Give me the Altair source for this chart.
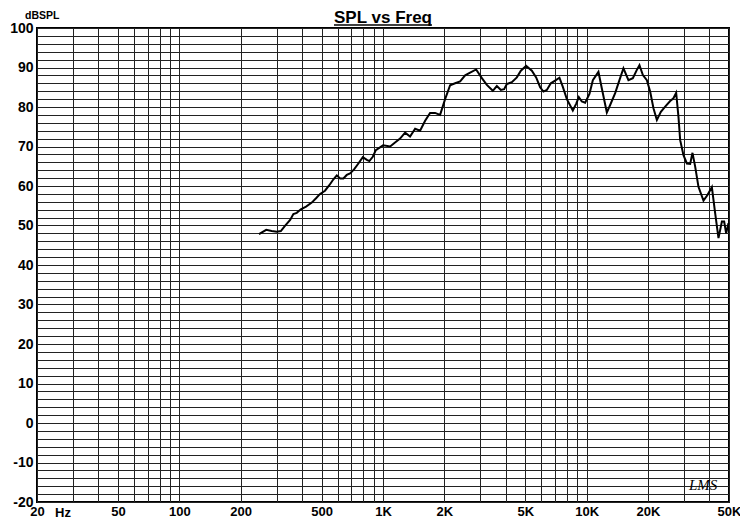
import altair as alt
import pandas as pd

# Frequency response (Hz, dB SPL)
freq = [246, 267, 284, 301, 315, 330, 350, 363, 377, 395, 419, 447, 469, 491,
        519, 545, 571, 593, 616, 639, 664, 689, 721, 757, 796, 833, 857, 891,
        922, 1001, 1084, 1146, 1213, 1284, 1358, 1438, 1521, 1610, 1703, 1802,
        1907, 2018, 2136, 2260, 2392, 2531, 2678, 2866, 3058, 3235, 3462, 3622,
        3790, 3934, 4055, 4292, 4542, 4752, 5045, 5381, 5649, 5910, 6134, 6374,
        6670, 7002, 7352, 7640, 7993, 8552, 8877, 9153, 9468, 9829, 10320,
        10725, 11426, 11874, 12564, 13043, 13803, 14488, 15160, 16040, 16858,
        17640, 18168, 18881, 19754, 20503, 21285, 22120, 23142, 24299, 25706,
        26684, 27512, 28238, 28789, 29884, 31056, 32236, 33086, 34108, 35405,
        37470, 39200, 41200, 42770, 44400, 46140, 47340, 48420, 49700]
spl = [47.8, 48.9, 48.6, 48.4, 48.6, 49.9, 51.4, 52.9, 53.2, 54.1, 54.8, 55.8,
       56.9, 58.0, 58.8, 60.2, 61.7, 62.7, 61.9, 61.9, 62.8, 63.2, 64.2, 65.7,
       67.3, 66.6, 66.3, 67.4, 69.1, 70.3, 70.0, 71.0, 72.0, 73.5, 72.5, 74.5,
       74.0, 76.5, 78.5, 78.5, 78.0, 82.0, 85.5, 86.0, 86.5, 88.0, 88.7, 89.5,
       87.3, 85.6, 84.1, 85.3, 84.3, 84.5, 85.8, 86.3, 87.5, 89.2, 90.4, 89.2,
       87.5, 85.0, 83.9, 84.3, 86.0, 86.7, 87.4, 85.1, 82.0, 79.1, 80.8, 82.5,
       81.4, 81.1, 83.3, 86.8, 88.9, 84.7, 78.6, 80.5, 83.5, 86.8, 89.8, 86.8,
       87.3, 89.4, 90.6, 88.1, 86.8, 83.9, 79.7, 76.7, 78.8, 80.1, 81.5, 82.2,
       83.6, 77.5, 71.6, 67.8, 65.7, 65.6, 68.4, 64.9, 59.8, 56.3, 57.7, 59.7,
       53.1, 46.8, 51.0, 51.0, 48.0, 50.6]

x_grid = [20, 30, 40, 50, 60, 70, 80, 90,
          100, 200, 300, 400, 500, 600, 700, 800, 900,
          1000, 2000, 3000, 4000, 5000, 6000, 7000, 8000, 9000,
          10000, 20000, 30000, 40000, 50000]
x_labeled = [20, 50, 100, 200, 500, 1000, 2000, 5000, 10000, 20000, 50000]
y_grid = list(range(-20, 101, 2))

FONT = "Liberation Sans"
W, H = 692, 474

df = pd.DataFrame({"f": freq, "db": spl})

lbl_test = " || ".join(f"datum.value == {v}" for v in x_labeled)
x_label_expr = (f"({lbl_test}) ? (datum.value >= 1000 ? (datum.value/1000) + 'K' : '' + datum.value) : ''")

xs = alt.Scale(type="log", domain=[20, 50000], nice=False)
ys = alt.Scale(domain=[-20, 100], nice=False, zero=False)

line = alt.Chart(df).mark_line(color="black", strokeWidth=2).encode(
    x=alt.X("f:Q", scale=xs, title=None,
            axis=alt.Axis(values=x_grid, labelExpr=x_label_expr, grid=True,
                          gridColor="#222", gridWidth=1, gridOpacity=1,
                          ticks=False, domain=False, labelFont=FONT,
                          labelFontSize=13, labelFontWeight="bold",
                          labelColor="black", labelPadding=3,
                          labelFlush=False, labelOverlap=False)),
    y=alt.Y("db:Q", scale=ys, title=None,
            axis=alt.Axis(values=y_grid,
                          labelExpr="datum.value % 10 == 0 ? datum.value : ''",
                          grid=True, gridColor="#222", gridWidth=1,
                          gridOpacity=1, ticks=False, domain=False,
                          labelFont=FONT, labelFontSize=14,
                          labelFontWeight="bold", labelColor="black",
                          labelPadding=4, labelFlush=False,
                          labelOverlap=False)),
)

title = alt.Chart(pd.DataFrame({"t": ["SPL vs Freq"]})).mark_text(
    font=FONT, fontSize=17, fontWeight="bold", color="black",
    align="center", baseline="alphabetic"
).encode(text="t:N", x=alt.value(346), y=alt.value(-5))

underline = alt.Chart(pd.DataFrame({"a": [0]})).mark_rule(
    color="black", strokeWidth=1.3
).encode(x=alt.value(297), x2=alt.value(395), y=alt.value(-3))

ylabel = alt.Chart(pd.DataFrame({"t": ["dBSPL"]})).mark_text(
    font=FONT, fontSize=10.5, fontWeight="bold", color="black",
    align="left", baseline="alphabetic"
).encode(text="t:N", x=alt.value(-12), y=alt.value(-9))

hz = alt.Chart(pd.DataFrame({"t": ["Hz"]})).mark_text(
    font=FONT, fontSize=13, fontWeight="bold", color="black",
    align="left", baseline="alphabetic"
).encode(text="t:N", x=alt.value(18), y=alt.value(H + 15))

lms = alt.Chart(pd.DataFrame({"t": ["LMS"]})).mark_text(
    font="Liberation Serif", fontSize=15, fontStyle="italic", color="black",
    align="left", baseline="alphabetic"
).encode(text="t:N", x=alt.value(652), y=alt.value(462))

chart = alt.layer(line, title, underline, ylabel, hz, lms).properties(
    width=W, height=H,
    padding={"left": 29, "top": 20, "right": 11, "bottom": 18},
    autosize="none",
    background="white",
).configure_view(stroke="black", strokeWidth=2)

chart.save("out.html", embed_options={"renderer": "svg", "actions": False})
